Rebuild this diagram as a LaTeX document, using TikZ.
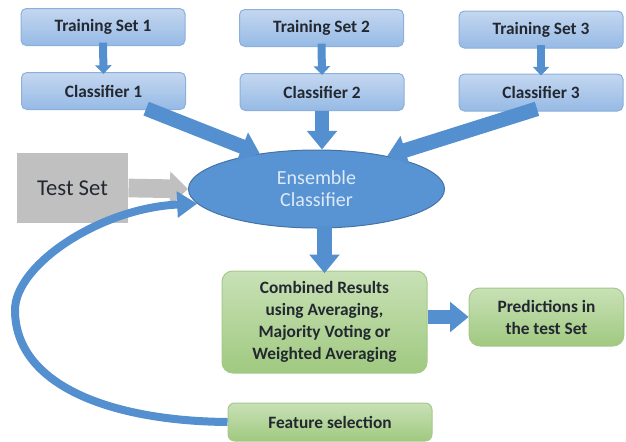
\documentclass[tikz,border=0pt]{standalone}
\usepackage{fontspec}
\setmainfont{Carlito}
\usetikzlibrary{arrows.meta,shapes.geometric}

\definecolor{boxtop}{RGB}{196,215,240}
\definecolor{boxbot}{RGB}{150,186,229}
\definecolor{boxline}{RGB}{140,175,220}
\definecolor{greentop}{RGB}{200,225,182}
\definecolor{greenbot}{RGB}{160,201,128}
\definecolor{greenline}{RGB}{165,200,140}
\definecolor{arrowblue}{RGB}{84,143,208}
\definecolor{ensline}{RGB}{70,115,165}
\definecolor{ensfill}{RGB}{88,148,211}
\definecolor{testgray}{RGB}{192,192,192}
\definecolor{textdark}{RGB}{35,40,48}

\tikzset{every picture/.style={line width=0.75pt}}
\tikzset{
  bluebox/.style={draw=boxline, top color=boxtop, bottom color=boxbot, rounded corners=4pt,
    minimum width=123pt, minimum height=27.75pt, inner sep=0.75pt, text=textdark,
    font=\fontsize{13}{16.5}\selectfont\bfseries},
  greenbox/.style={draw=greenline, top color=greentop, bottom color=greenbot, rounded corners=8pt,
    inner sep=0.75pt, text=textdark, align=center,
    font=\fontsize{13}{16.5}\selectfont\bfseries},
  smallarrow/.style={draw=arrowblue, line width=6pt, -{Triangle[width=12pt,length=6.5pt]}},
  fatarrow/.style={draw=arrowblue, line width=11pt, -{Triangle[width=22pt,length=14pt]}},
  grayarrow/.style={draw=testgray, line width=14pt, -{Triangle[width=25pt,length=13.5pt]}},
  loparrow/.style={draw=arrowblue, line width=6pt, -{Triangle[width=19pt,length=15pt]}}
}

\begin{document}
\begin{tikzpicture}[x=0.75pt,y=0.75pt,yscale=-1,xscale=1]
%set diagram left start at 0, and has height of 441
\path (0,0) rectangle (626,441);

%Shape: Rectangle [ts1]
\node [bluebox] (ts1) at (103,27) {Training Set 1};
%Shape: Rectangle [ts2]
\node [bluebox] (ts2) at (321.5,28) {Training Set 2};
%Shape: Rectangle [ts3]
\node [bluebox] (ts3) at (541,29.5) {Training Set 3};
%Shape: Rectangle [cls1]
\node [bluebox] (cls1) at (103.5,91) {Classifier 1};
%Shape: Rectangle [cls2]
\node [bluebox] (cls2) at (322,92) {Classifier 2};
%Shape: Rectangle [cls3]
\node [bluebox] (cls3) at (541,92.5) {Classifier 3};

%Shape: Rectangle [test]
\node [fill=testgray, minimum width=83.25pt, minimum height=52.5pt, inner sep=0.75pt,
  text=textdark, font=\fontsize{17}{20}\selectfont] (test) at (72.5,188) {Test Set};

%Shape: Ellipse [ens]
\node [ellipse, draw=ensline, fill=ensfill, minimum width=192pt, minimum height=58.5pt,
  inner sep=0pt, align=center, text={rgb,255:red,222;green,234;blue,247},
  font=\fontsize{15}{16.5}\selectfont] (ens) at (316.5,189) {Ensemble\\Classifier};

%Shape: Rounded Rectangle [comb]
\node [greenbox, minimum width=153.75pt, minimum height=76.5pt] (comb) at (324.5,322)
  {Combined Results\\using Averaging,\\Majority Voting or\\Weighted Averaging};
%Shape: Rounded Rectangle [pred]
\node [greenbox, minimum width=116pt, minimum height=43.5pt] (pred) at (546.5,317)
  {Predictions in\\the test Set};
%Shape: Rounded Rectangle [feat]
\node [greenbox, rounded corners=5pt, minimum width=153pt, minimum height=28.5pt] (feat) at (330,422)
  {Feature selection};

%Straight Lines [training to classifier]
\foreach \i in {1,2,3}
  \draw [smallarrow] ([yshift=-2.5pt]ts\i.south) -- ([yshift=1.5pt]cls\i.north);

%Straight Lines [classifiers to ensemble]
\draw [fatarrow] ([xshift=32pt,yshift=-1pt]cls1.south) -- (ens.148);
\draw [fatarrow] (cls2.south) -- (cls2.south |- ens.north);
\draw [fatarrow] ([xshift=-3pt,yshift=-2pt]cls3.south) -- (ens.25);

%Straight Lines [test set to ensemble]
\draw [grayarrow] (test.east) -- (ens.west);

%Straight Lines [ensemble to results]
\draw [fatarrow] ([yshift=-2pt]ens.south -| comb.north) -- ([yshift=2pt]comb.north);
\draw [fatarrow] (comb.east |- pred.west) -- (pred.west);

%Curve Lines [feature selection back to ensemble]
\draw [loparrow] (feat.west) .. controls (110,421) and (15,385) .. (15,310)
  .. controls (15,265) and (100,208) .. (ens.187);

\end{tikzpicture}
\end{document}
